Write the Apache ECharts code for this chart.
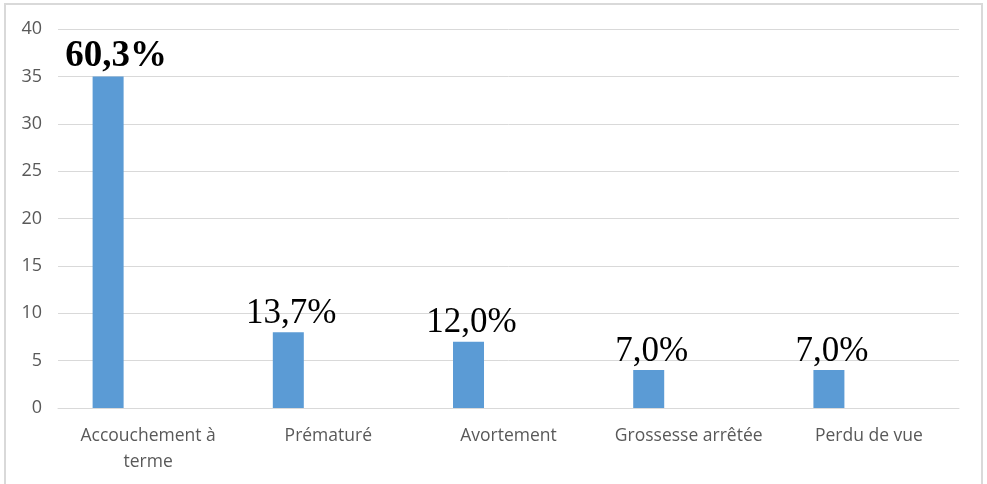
<!DOCTYPE html>
<html>
<head>
<meta charset="utf-8">
<script src="https://cdn.jsdelivr.net/npm/echarts@6/dist/echarts.min.js"></script>
<style>
html,body{margin:0;padding:0;background:#fff;}
#chart{width:987px;height:484px;}
</style>
</head>
<body>
<div id="chart"></div>
<script>
const categories = ['Accouchement à\nterme', 'Prématuré', 'Avortement', 'Grossesse arrêtée', 'Perdu de vue'];
const values = [35, 8, 7, 4, 4];
const percentLabels = ['60,3%', '13,7%', '12,0%', '7,0%', '7,0%'];
const yTicks = { min: 0, max: 40, interval: 5 };

const chart = echarts.init(document.getElementById('chart'), null, { renderer: 'canvas' });
const option = {
  animation: false,
  backgroundColor: '#ffffff',
  graphic: [{
    type: 'rect',
    shape: { x: 5, y: 4, width: 977, height: 500 },
    style: { fill: 'none', stroke: '#d9d9d9', lineWidth: 2 },
    silent: true
  }],
  grid: { left: 58, right: 28, top: 29, bottom: 76 },
  xAxis: {
    type: 'category',
    data: categories,
    axisLine: { show: true, lineStyle: { color: '#d9d9d9', width: 1 } },
    axisTick: { show: false },
    axisLabel: {
      color: '#595959',
      fontFamily: 'Open Sans',
      fontSize: 17.5,
      lineHeight: 26,
      margin: 15,
      interval: 0
    }
  },
  yAxis: {
    type: 'value',
    min: yTicks.min,
    max: yTicks.max,
    interval: yTicks.interval,
    axisLine: { show: false },
    axisTick: { show: false },
    splitLine: { lineStyle: { color: '#d9d9d9', width: 1 } },
    axisLabel: {
      color: '#595959',
      fontFamily: 'Open Sans',
      fontSize: 18,
      margin: 16
    }
  },
  series: [
    {
      type: 'bar',
      data: values.map((v, i) => ({
        value: v,
        label: i === 0 ? { fontWeight: 'bold', fontSize: 37, offset: [8, 0] } : {}
      })),
      barWidth: 31,
      barGap: '158%',
      itemStyle: { color: '#5b9bd5' },
      label: {
        show: true,
        position: 'top',
        distance: 1,
        offset: [3, 0],
        fontFamily: 'Liberation Serif',
        fontSize: 35,
        color: '#000000',
        formatter: p => percentLabels[p.dataIndex]
      }
    },
    {
      type: 'bar',
      data: values.map(() => null),
      barWidth: 31,
      itemStyle: { color: '#ed7d31' }
    }
  ]
};
chart.setOption(option);
</script>
</body>
</html>
